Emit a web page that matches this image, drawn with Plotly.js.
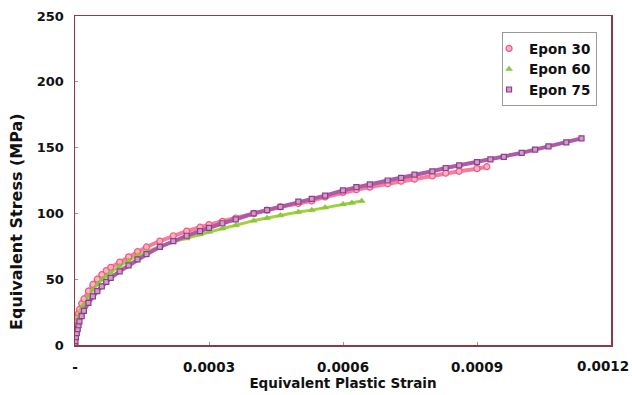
<!DOCTYPE html>
<html>
<head>
<meta charset="utf-8">
<script src="https://cdn.plot.ly/plotly-3.0.1.min.js"></script>
<style>html,body{margin:0;padding:0;background:#fff;}#chart{width:632px;height:395px;}</style>
</head>
<body>
<div id="chart"></div>
<script>
// Epon 30
const strain30 = [0, 0.000001, 0.000002, 0.000004, 0.000006, 0.000008, 0.00001, 0.000015, 0.00002, 0.00003, 0.00004, 0.00005, 0.00006, 0.00007, 0.00008, 0.0001, 0.00012, 0.00014, 0.00016, 0.00019, 0.00022, 0.00025, 0.00028, 0.0003, 0.00033, 0.00036, 0.0004, 0.00043, 0.00046, 0.0005, 0.00053, 0.00056, 0.0006, 0.00063, 0.00066, 0.0007, 0.00073, 0.00076, 0.0008, 0.00083, 0.00086, 0.0009, 0.000922];
const stress30 = [0, 8, 12, 17, 21, 24, 27, 31.5, 35, 41, 46, 50, 53.5, 56.5, 59, 63, 67, 71, 74.5, 79, 83, 86.5, 89.5, 91.5, 94, 96.5, 100, 102.5, 105, 107.5, 109.5, 112.5, 116, 118, 120, 122.5, 124.5, 126, 128.5, 130.5, 132, 134, 135.5];
// Epon 60
const strain60 = [0, 0.000001, 0.000002, 0.000004, 0.000006, 0.000008, 0.00001, 0.000015, 0.00002, 0.00003, 0.00004, 0.00005, 0.00006, 0.00007, 0.00008, 0.0001, 0.00012, 0.00014, 0.00016, 0.00019, 0.00022, 0.00025, 0.00028, 0.0003, 0.00033, 0.00036, 0.0004, 0.00043, 0.00046, 0.0005, 0.00053, 0.00056, 0.0006, 0.00062, 0.000642];
const stress60 = [0, 6, 9, 13, 17, 20, 23, 27.5, 31, 37, 42, 46, 49.5, 52.5, 55, 60, 64, 68, 71, 75, 78.5, 81, 84, 86, 88.5, 91, 94.5, 96.5, 98.5, 101, 102.5, 104.5, 107, 108, 109.5];
// Epon 75
const strain75 = [0, 0.000001, 0.000002, 0.000004, 0.000006, 0.000008, 0.00001, 0.000015, 0.00002, 0.00003, 0.00004, 0.00005, 0.00006, 0.00007, 0.00008, 0.0001, 0.00012, 0.00014, 0.00016, 0.00019, 0.00022, 0.00025, 0.00028, 0.0003, 0.00033, 0.00036, 0.0004, 0.00043, 0.00046, 0.0005, 0.00053, 0.00056, 0.0006, 0.00063, 0.00066, 0.0007, 0.00073, 0.00076, 0.0008, 0.00083, 0.00086, 0.0009, 0.00093, 0.00096, 0.001, 0.00103, 0.00106, 0.0011, 0.001134];
const stress75 = [0, 3, 6, 9, 12, 15, 18, 22, 26, 32, 37, 41, 44.5, 48, 51, 56, 60.5, 65, 69, 74.5, 79, 83, 86.5, 89, 92.5, 95.5, 100, 102.5, 105, 109, 111, 113.5, 117.5, 120, 122, 125, 127, 129.5, 132, 134.5, 136.5, 139, 141, 143, 146, 148.5, 151, 154, 157];

const xTickVals = [0, 0.0003, 0.0006, 0.0009, 0.0012];
const xTickText = ['-', '0.0003', '0.0006', '0.0009', '0.0012'];
const yTickVals = [0, 50, 100, 150, 200, 250];
const seriesNames = ['Epon 30', 'Epon 60', 'Epon 75'];

const F = 'DejaVu Sans, Verdana, sans-serif';
const bold = (s) => ({family: F, size: s, color: '#111', weight: 'bold'});

const series = [
  {x: strain30, y: stress30, name: seriesNames[0], lc: '#f77d9c', lw: 4,
   marker: {symbol: 'circle', size: 6, color: '#fbb3c6', line: {color: '#f2577f', width: 1.2}}},
  {x: strain60, y: stress60, name: seriesNames[1], lc: '#a3d13c', lw: 3,
   marker: {symbol: 'triangle-up', size: 6, color: '#8cc63f', line: {color: '#86c23a', width: 0.5}}},
  {x: strain75, y: stress75, name: seriesNames[2], lc: '#ad5aa7', lw: 4,
   marker: {symbol: 'square', size: 5, color: '#d29ccd', line: {color: '#8e3f8c', width: 1.2}}}
];

const traces = [];
series.forEach(s => {
  traces.push({x: s.x, y: s.y, type: 'scatter', mode: 'lines', showlegend: false, hoverinfo: 'skip',
               line: {color: s.lc, width: s.lw}});
});
series.forEach(s => {
  traces.push({x: s.x, y: s.y, name: s.name, type: 'scatter', mode: 'markers', marker: s.marker});
});

// the last tick label sits against the right edge (as in the reference), so it is drawn as an annotation
const lastIdx = xTickVals.length - 1;
const axisTickText = xTickText.map((t, i) => i === lastIdx ? '' : t);

const layout = {
  width: 632, height: 395,
  margin: {l: 75, r: 21, t: 16, b: 50},
  paper_bgcolor: '#ffffff', plot_bgcolor: '#ffffff',
  font: bold(13),
  showlegend: true,
  legend: {x: 0.974, y: 0.951, xanchor: 'right', yanchor: 'top',
           bordercolor: '#999999', borderwidth: 1, bgcolor: '#ffffff',
           font: bold(13.5), tracegroupgap: 0, itemwidth: 30, indentation: -14},
  xaxis: {
    range: [0, 0.0012], tickvals: xTickVals, ticktext: axisTickText,
    showgrid: false, zeroline: false,
    showline: true, mirror: true, linecolor: '#8e3a44', linewidth: 1.5,
    ticks: 'inside', ticklen: 3, tickcolor: '#999999',
    ticklabelstandoff: 9,
    tickfont: bold(13.5),
    title: {text: 'Equivalent Plastic Strain', font: bold(13.5), standoff: 3}
  },
  yaxis: {
    range: [0, 250], tickvals: yTickVals,
    showgrid: false, zeroline: false,
    showline: true, mirror: true, linecolor: '#8e3a44', linewidth: 1.5,
    ticks: 'inside', ticklen: 3, tickcolor: '#999999',
    ticklabelstandoff: 7,
    tickfont: bold(13)
  },
  annotations: [{
    text: 'Equivalent Stress (MPa)', textangle: -90, showarrow: false,
    xref: 'paper', yref: 'paper', x: -0.1082, y: 0.374, xanchor: 'center', yanchor: 'middle',
    font: bold(16)
  }, {
    text: xTickText[lastIdx], showarrow: false,
    xref: 'x', yref: 'paper', x: xTickVals[lastIdx], y: 0, xanchor: 'right', yanchor: 'top',
    xshift: 19, yshift: -12, borderpad: 0, font: bold(13.5)
  }]
};

Plotly.newPlot('chart', traces, layout, {displayModeBar: false, staticPlot: true});
</script>
</body>
</html>
